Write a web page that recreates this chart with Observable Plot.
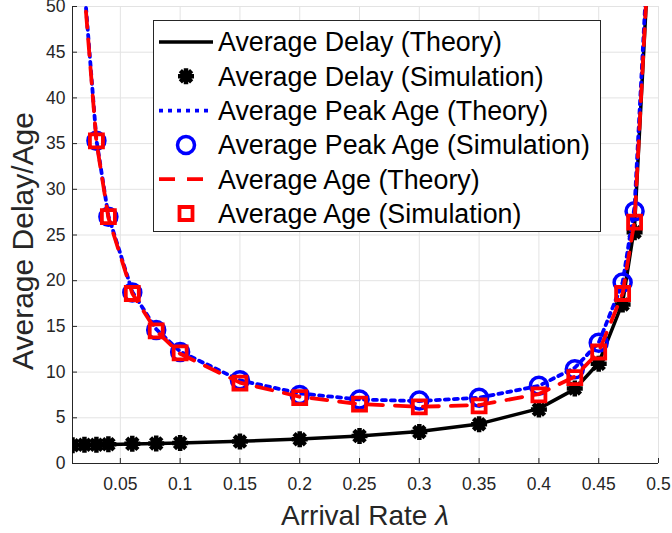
<!DOCTYPE html>
<html>
<head>
<meta charset="utf-8">
<script src="https://cdn.jsdelivr.net/npm/d3@7"></script>
<script src="https://cdn.jsdelivr.net/npm/@observablehq/plot@0.6"></script>
<style>
  html, body { margin: 0; padding: 0; background: #fff; }
  #chart { width: 672px; height: 533px; }
  svg { display: block; }
</style>
</head>
<body>
<div id="chart"></div>
<script>
// Arrival rates at which the queue was simulated
const rates = [0.01, 0.02, 0.03, 0.04, 0.06, 0.08, 0.1, 0.15, 0.2, 0.25, 0.3, 0.35, 0.4, 0.43, 0.45, 0.47, 0.48];
// Theory curves are evaluated on the same grid plus one point near saturation
const theoryRates = [0.01, 0.02, 0.03, 0.04, 0.06, 0.08, 0.1, 0.15, 0.2, 0.25, 0.3, 0.35, 0.4, 0.43, 0.45, 0.47, 0.48, 0.49];

const delayTheory = [2.02, 2.04, 2.06, 2.09, 2.14, 2.19, 2.25, 2.43, 2.67, 3.0, 3.5, 4.33, 6.0, 8.14, 11.0, 17.6, 26.0, 51.0];
const delaySim    = [2.0, 2.05, 2.05, 2.1, 2.15, 2.2, 2.25, 2.4, 2.65, 3.0, 3.45, 4.3, 5.9, 8.2, 10.9, 17.4, 25.3];

const peakAgeTheory = [102.0, 52.0, 35.4, 27.1, 18.8, 14.7, 12.25, 9.1, 7.67, 7.0, 6.83, 7.19, 8.5, 10.47, 13.22, 19.8, 28.1, 53.0];
const ageTheory     = [101.5, 51.5, 35.2, 26.9, 18.6, 14.5, 12.0, 8.85, 7.3, 6.5, 6.2, 6.4, 7.6, 9.5, 12.2, 18.6, 26.6, 51.5];

// Age simulations were only run from λ = 0.03 upward
const ageRates   = [0.03, 0.04, 0.06, 0.08, 0.1, 0.15, 0.2, 0.25, 0.3, 0.35, 0.4, 0.43, 0.45, 0.47, 0.48];
const peakAgeSim = [35.3, 27.0, 18.7, 14.6, 12.2, 9.1, 7.5, 7.0, 6.9, 7.2, 8.5, 10.3, 13.2, 19.8, 27.6];
const ageSim     = [35.3, 27.0, 18.6, 14.5, 12.1, 8.8, 7.2, 6.5, 6.2, 6.3, 7.5, 9.4, 12.2, 18.6, 26.4];

const xTicks = [0.05, 0.1, 0.15, 0.2, 0.25, 0.3, 0.35, 0.4, 0.45, 0.5];
const yTicks = [0, 5, 10, 15, 20, 25, 30, 35, 40, 45, 50];
const xDomain = [0.01, 0.5];
const yDomain = [0, 50];

const seriesNames = [
  "Average Delay (Theory)",
  "Average Delay (Simulation)",
  "Average Peak Age (Theory)",
  "Average Peak Age (Simulation)",
  "Average Age (Theory)",
  "Average Age (Simulation)"
];

const FONT = "'Liberation Sans', Arial, Helvetica, sans-serif";
const INK = "#262626";
const BLUE = "#0000ff";
const RED = "#ff0000";

const rows = (xs, ys) => xs.map((x, i) => ({x, y: ys[i]}));

// Eight-armed asterisk, stroked
const star = {
  draw(ctx, size) {
    const r = Math.sqrt(size / Math.PI);
    for (let k = 0; k < 4; k++) {
      const a = k * Math.PI / 4, c = Math.cos(a) * r, s = Math.sin(a) * r;
      ctx.moveTo(-c, -s);
      ctx.lineTo(c, s);
    }
  }
};
// Open square whose half-side equals r
const square = {
  draw(ctx, size) {
    const r = Math.sqrt(size / Math.PI);
    ctx.rect(-r, -r, 2 * r, 2 * r);
  }
};

const styles = {
  delayLine: {stroke: "black", strokeWidth: 3.5, strokeLinejoin: "round"},
  delayDot: {symbol: star, r: 8, stroke: "black", strokeWidth: 4.5, fill: "none"},
  peakLine: {stroke: BLUE, strokeWidth: 3.8, strokeDasharray: "4,5"},
  peakDot: {r: 8.5, stroke: BLUE, strokeWidth: 3.5, fill: "none"},
  ageLine: {stroke: RED, strokeWidth: 3.8, strokeDasharray: "16,12"},
  ageDot: {symbol: square, r: 6.5, stroke: RED, strokeWidth: 3.8, fill: "none"}
};

const chart = Plot.plot({
  width: 672,
  height: 533,
  marginLeft: 72,
  marginRight: 14,
  marginTop: 6,
  marginBottom: 70,
  x: {domain: xDomain},
  y: {domain: yDomain},
  style: {fontFamily: FONT, fontSize: "17.5px", color: INK, background: "white"},
  marks: [
    Plot.gridX(xTicks, {stroke: "#e3e3e3", strokeOpacity: 1}),
    Plot.gridY(yTicks, {stroke: "#e3e3e3", strokeOpacity: 1}),
    Plot.ruleX([xDomain[0]], {stroke: INK}),
    Plot.ruleY([yDomain[0]], {stroke: INK}),
    Plot.axisX(xTicks, {tickSize: -5, tickPadding: 19, tickFormat: d => String(d), label: null, stroke: INK, fill: INK}),
    Plot.axisY(yTicks, {tickSize: -5, tickPadding: 12, label: null, stroke: INK, fill: INK}),

    Plot.line(rows(theoryRates, delayTheory), {x: "x", y: "y", clip: true, ...styles.delayLine}),
    Plot.dot(rows(rates, delaySim), {x: "x", y: "y", clip: true, ...styles.delayDot}),
    Plot.line(rows(theoryRates, peakAgeTheory), {x: "x", y: "y", clip: true, ...styles.peakLine}),
    Plot.dot(rows(ageRates, peakAgeSim), {x: "x", y: "y", clip: true, ...styles.peakDot}),
    Plot.line(rows(theoryRates, ageTheory), {x: "x", y: "y", clip: true, ...styles.ageLine}),
    Plot.dot(rows(ageRates, ageSim), {x: "x", y: "y", clip: true, ...styles.ageDot})
  ]
});

document.getElementById("chart").appendChild(chart);
const svg = d3.select(chart);

// Axis titles
const xt = svg.append("text")
  .attr("x", 365).attr("y", 525)
  .attr("text-anchor", "middle")
  .attr("font-family", FONT).attr("font-size", 28).attr("fill", INK);
xt.append("tspan").text("Arrival Rate ");
xt.append("tspan").attr("font-style", "italic").text("λ");

svg.append("text")
  .attr("transform", "translate(33,241) rotate(-90)")
  .attr("text-anchor", "middle")
  .attr("font-family", FONT).attr("font-size", 30).attr("fill", INK)
  .text("Average Delay/Age");

// Legend box in the upper middle of the axes
const lg = svg.append("g")
  .attr("font-family", FONT).attr("font-size", 26.8)
  .attr("text-anchor", "start");
lg.append("rect")
  .attr("x", 153.5).attr("y", 20.5).attr("width", 447).attr("height", 211)
  .attr("fill", "white").attr("stroke", INK).attr("stroke-width", 1);

const rowY = i => 42 + i * 34.3;
const swatchX0 = 159, swatchX1 = 213, swatchC = 186;

function lineSwatch(i, s) {
  lg.append("line")
    .attr("x1", swatchX0).attr("x2", swatchX1).attr("y1", rowY(i)).attr("y2", rowY(i))
    .attr("stroke", s.stroke).attr("stroke-width", s.strokeWidth)
    .attr("stroke-dasharray", s.strokeDasharray || null);
}
function symbolSwatch(i, s) {
  const r = s.r;
  const path = d3.path();
  (s.symbol || d3.symbolCircle).draw(path, Math.PI * r * r);
  lg.append("path")
    .attr("transform", `translate(${swatchC},${rowY(i)})`)
    .attr("d", path.toString())
    .attr("fill", "none").attr("stroke", s.stroke).attr("stroke-width", s.strokeWidth);
}

lineSwatch(0, styles.delayLine);
symbolSwatch(1, styles.delayDot);
lineSwatch(2, styles.peakLine);
symbolSwatch(3, styles.peakDot);
lineSwatch(4, styles.ageLine);
symbolSwatch(5, styles.ageDot);

seriesNames.forEach((name, i) => {
  lg.append("text")
    .attr("x", 218).attr("y", rowY(i)).attr("dy", "0.35em")
    .attr("text-anchor", "start")
    .attr("fill", "black").text(name);
});
</script>
</body>
</html>
